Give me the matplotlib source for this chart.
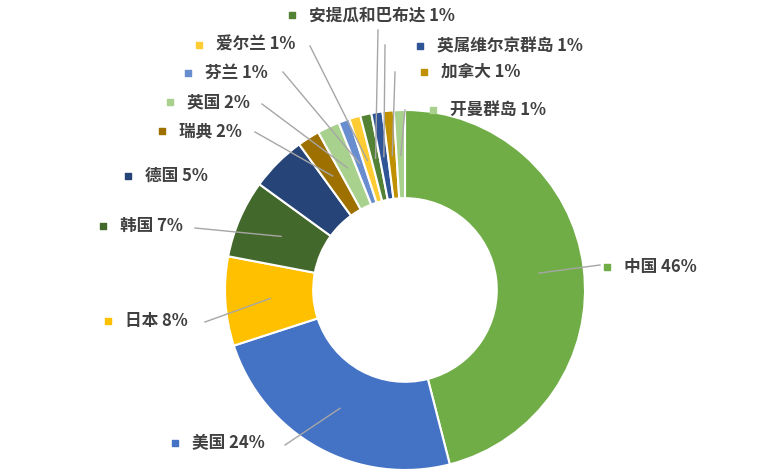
import matplotlib
matplotlib.use("Agg")
import matplotlib.pyplot as plt
import numpy as np

plt.rcParams['font.family'] = ['Noto Sans CJK SC', 'DejaVu Sans']

countries = ['中国','美国','日本','韩国','德国','瑞典','英国','芬兰','爱尔兰','安提瓜和巴布达','英属维尔京群岛','加拿大','开曼群岛']
values = [46,24,8,7,5,2,2,1,1,1,1,1,1]
colors = ['#70AD47','#4472C4','#FFC000','#43682B','#264478','#9E7000','#A9D18E','#698ED0','#FFCD33','#548235','#2F5597','#BF9000','#A9D18E']
# label text-anchor positions in pixels (x of marker, y) and line-end pixel
label_px = [(607,267),(175,443),(108,321),(103,226),(128,176),(162,131),(170,102),(188,73),(199,45),(292,15),(420,46),(424,72),(433,110)]
line_end_px = [(600,265),(285,445),(205,322),(195,228),None,(255,132),(262,104),(283,72),(310,46),(378,30),(385,45),(395,72),(405,110)]

W,H = 778,475
cx,cy,R = 405,290,180
fig = plt.figure(figsize=(W/100,H/100), dpi=100)
ax = fig.add_axes([(cx-R)/W,(H-cy-R)/H,2*R/W,2*R/H])
wedges,_ = ax.pie(values, colors=colors, startangle=90, counterclock=False,
                  radius=1, wedgeprops=dict(width=0.49, edgecolor='white', linewidth=1.5))
ax.set_xlim(-1,1); ax.set_ylim(-1,1); ax.set_aspect('equal'); ax.axis('off')

def d(p): return ((p[0]-cx)/R, (cy-p[1])/R)

total = sum(values)
for i,(w,name,v) in enumerate(zip(wedges,countries,values)):
    ang = np.deg2rad((w.theta1+w.theta2)/2)
    mx,my = d(label_px[i])
    ax.scatter([mx],[my], marker='s', s=22, color=colors[i], clip_on=False)
    ax.text(mx+17/R, my, f'{name} {v}%', fontsize=12, fontweight='bold', color='#404040',
            va='center', ha='left', clip_on=False)
    if line_end_px[i] is not None:
        r = 0.75
        sx,sy = r*np.cos(ang), r*np.sin(ang)
        ex,ey = d(line_end_px[i])
        ax.plot([sx,ex],[sy,ey], color='#A6A6A6', lw=1, clip_on=False)

fig.savefig('out.png', dpi=100)
